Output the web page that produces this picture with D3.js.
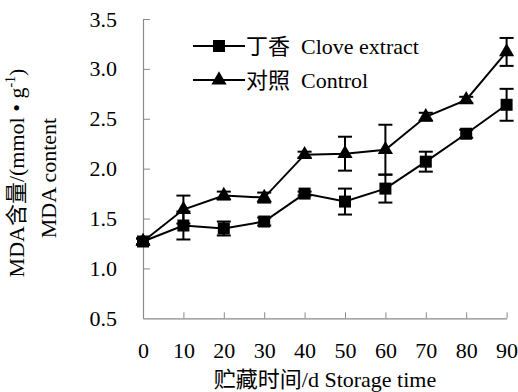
<!DOCTYPE html>
<html>
<head>
<meta charset="utf-8">
<script src="https://cdn.jsdelivr.net/npm/d3@7"></script>
<style>
  body { margin: 0; background: #fff; }
  svg text { font-family: "Liberation Serif", "Noto Sans CJK SC", serif; fill: #000; }
</style>
</head>
<body>
<div id="chart"></div>
<script>
// storage days
const days = [0, 10, 20, 30, 40, 50, 60, 70, 80, 90];
// MDA content, mmol/g
const cloveValues = [1.27, 1.43, 1.40, 1.47, 1.75, 1.67, 1.80, 2.07, 2.35, 2.64];
const cloveErrors = [0.03, 0.14, 0.07, 0.04, 0.02, 0.13, 0.14, 0.10, 0.04, 0.16];
const controlValues = [1.27, 1.59, 1.73, 1.71, 2.14, 2.15, 2.19, 2.52, 2.69, 3.17];
const controlErrors = [0.03, 0.14, 0.04, 0.05, 0.03, 0.17, 0.25, 0.04, 0.03, 0.14];
const yTicks = [0.5, 1.0, 1.5, 2.0, 2.5, 3.0, 3.5];
const seriesNames = ['丁香  Clove extract', '对照  Control'];

const width = 518, height = 392;
const margin = { left: 143, right: 11.4, top: 19, bottom: 73.7 };
const fontSize = 22;

const svg = d3.select('#chart').append('svg')
    .attr('width', width)
    .attr('height', height);

const xScale = d3.scaleLinear()
    .domain([0, 90])
    .range([margin.left, width - margin.right]);
const yScale = d3.scaleLinear()
    .domain([0.5, 3.5])
    .range([height - margin.bottom, margin.top]);

// axes (ticks point inward)
const xAxis = svg.append('g')
    .attr('transform', `translate(0, ${yScale(0.5)})`)
    .call(d3.axisBottom(xScale).tickValues(days).tickFormat(d3.format('d'))
        .tickSizeInner(-6).tickSizeOuter(0).tickPadding(24));
const yAxis = svg.append('g')
    .attr('transform', `translate(${xScale(0)}, 0)`)
    .call(d3.axisLeft(yScale).tickValues(yTicks).tickFormat(d3.format('.1f'))
        .tickSizeInner(-7).tickSizeOuter(0).tickPadding(26));

[xAxis, yAxis].forEach(ax => {
    ax.select('.domain').attr('stroke', '#8a8a8a').attr('stroke-width', 1.2);
    ax.selectAll('.tick line').attr('stroke', '#8a8a8a').attr('stroke-width', 1);
    ax.selectAll('.tick text').attr('font-size', fontSize).attr('fill', '#000')
        .style('font-family', '"Liberation Serif", serif');
});
xAxis.selectAll('.tick').filter(d => d === 0).select('line').remove();
yAxis.selectAll('.tick').filter(d => d === 0.5).select('line').remove();

// axis titles
const yTitle = svg.append('text')
    .attr('transform', `translate(24, 173) rotate(-90)`)
    .attr('text-anchor', 'middle')
    .attr('font-size', fontSize);
yTitle.append('tspan').text('MDA含量/(mmol • g');
yTitle.append('tspan').attr('dy', -9).attr('font-size', 14).text('-1');
yTitle.append('tspan').attr('dy', 9).text(')');

svg.append('text')
    .attr('transform', `translate(56, 178) rotate(-90)`)
    .attr('text-anchor', 'middle')
    .attr('font-size', fontSize)
    .text('MDA content');

svg.append('text')
    .attr('x', 325)
    .attr('y', 387)
    .attr('text-anchor', 'middle')
    .attr('font-size', fontSize)
    .text('贮藏时间/d Storage time');

const line = d3.line()
    .x((d, i) => xScale(days[i]))
    .y(d => yScale(d));

const square = d3.symbol().type(d3.symbolSquare).size(144);
const triangle = d3.symbol().type(d3.symbolTriangle).size(100);

const series = [
    { name: seriesNames[0], values: cloveValues, errors: cloveErrors, symbol: square },
    { name: seriesNames[1], values: controlValues, errors: controlErrors, symbol: triangle }
];

series.forEach(s => {
    const g = svg.append('g');

    // error bars
    s.values.forEach((v, i) => {
        const x = xScale(days[i]);
        const y0 = yScale(v - s.errors[i]);
        const y1 = yScale(v + s.errors[i]);
        g.append('line').attr('x1', x).attr('x2', x).attr('y1', y0).attr('y2', y1)
            .attr('stroke', '#000').attr('stroke-width', 2);
        [y0, y1].forEach(y => {
            g.append('line').attr('x1', x - 7).attr('x2', x + 7).attr('y1', y).attr('y2', y)
                .attr('stroke', '#000').attr('stroke-width', 2);
        });
    });

    g.append('path')
        .datum(s.values)
        .attr('fill', 'none')
        .attr('stroke', '#000')
        .attr('stroke-width', 2)
        .attr('d', line);

    g.selectAll('path.marker')
        .data(s.values)
        .enter()
        .append('path')
        .attr('class', 'marker')
        .attr('transform', (d, i) => `translate(${xScale(days[i])}, ${yScale(d)})`)
        .attr('d', s.symbol)
        .attr('fill', '#000');
});

// legend
const legendY = [46, 80];
series.forEach((s, i) => {
    const g = svg.append('g').attr('transform', `translate(193, ${legendY[i]})`);
    g.append('line').attr('x1', 0).attr('x2', 52).attr('y1', 0).attr('y2', 0)
        .attr('stroke', '#000').attr('stroke-width', 2);
    g.append('path').attr('transform', 'translate(26, 0)').attr('d', s.symbol).attr('fill', '#000');
    g.append('text').attr('x', 53).attr('y', 8).attr('font-size', fontSize)
        .style('white-space', 'pre')
        .text(s.name);
});
</script>
</body>
</html>
